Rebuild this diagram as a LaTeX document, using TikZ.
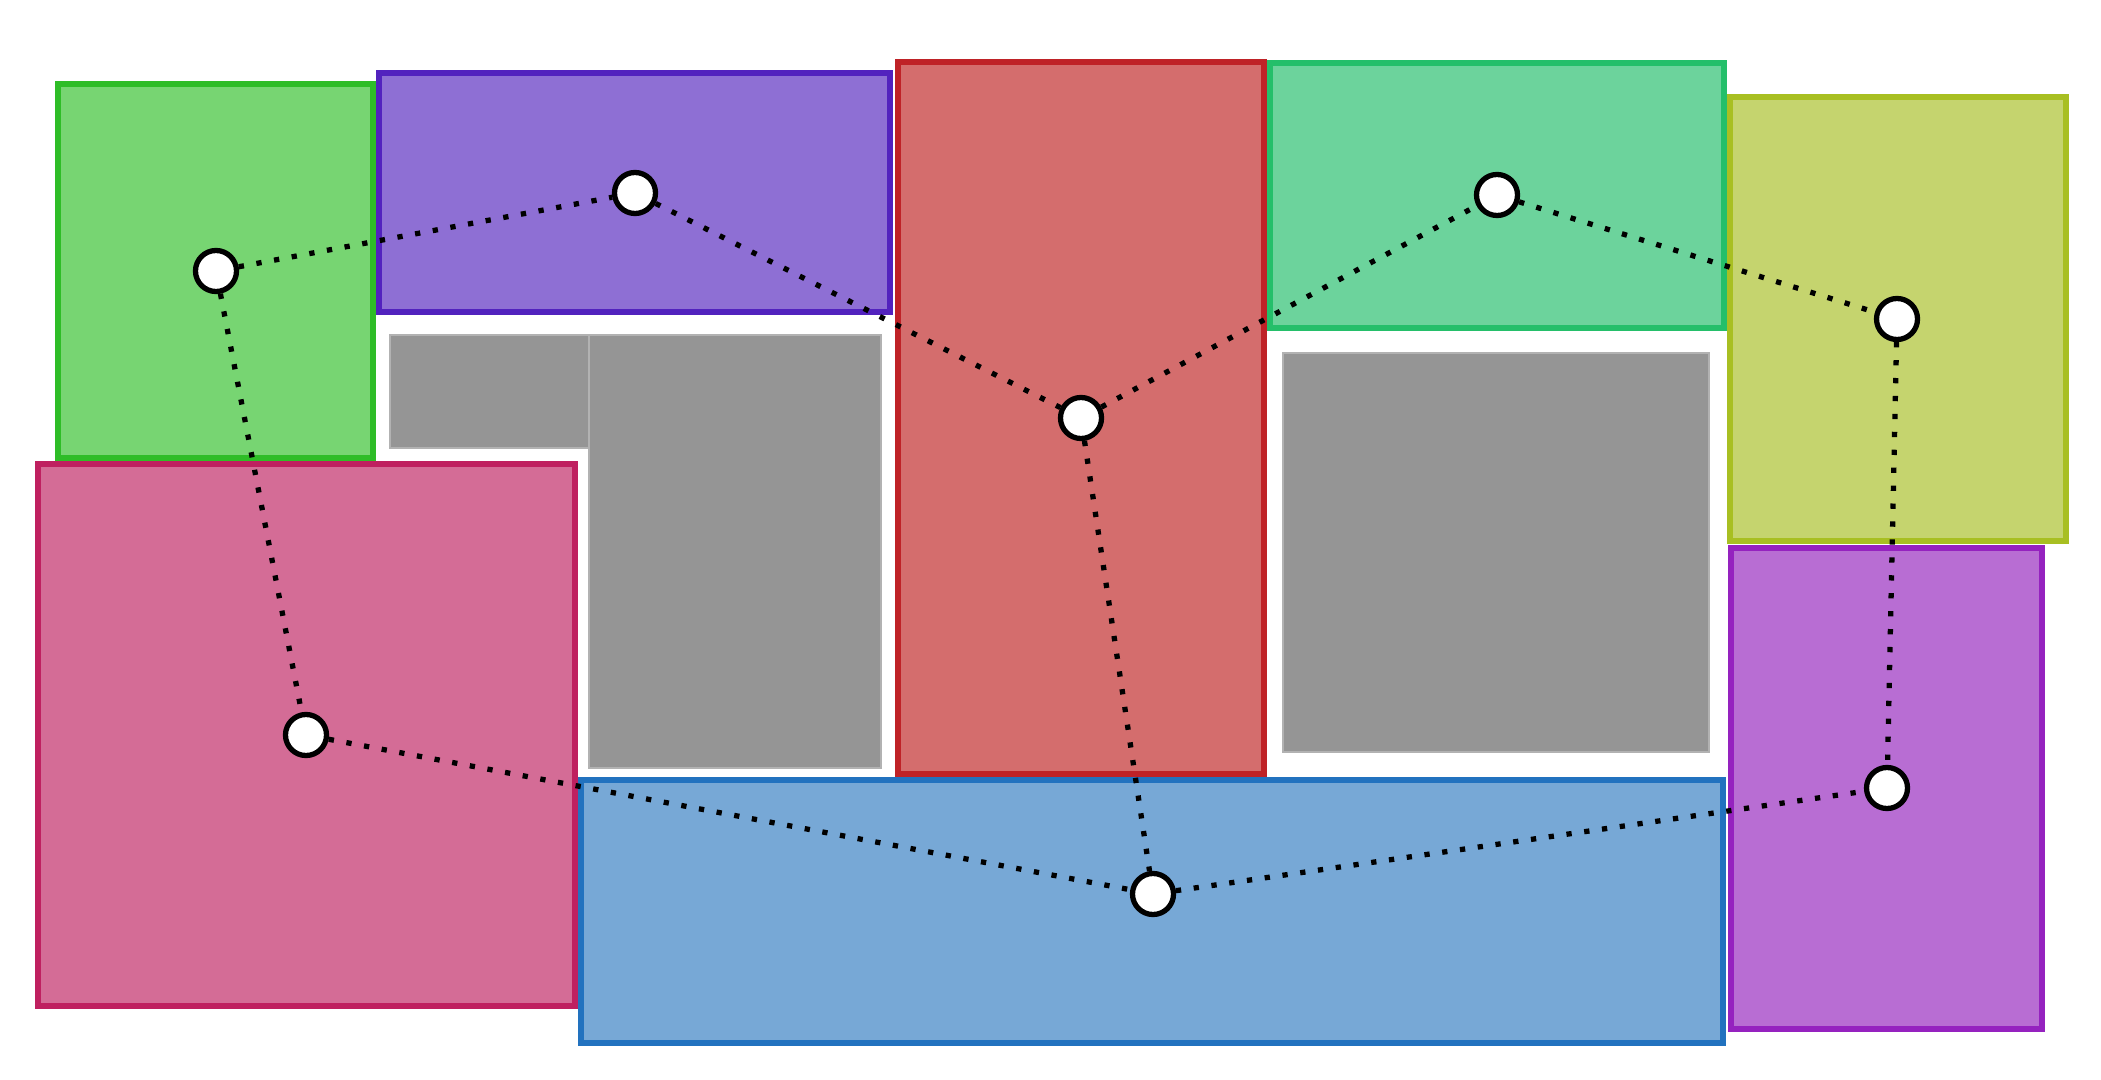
\documentclass[tikz,border=0pt]{standalone}
\usepackage{tikz}

\definecolor{grnfill}{HTML}{77D572}\definecolor{grnline}{HTML}{2EBD27}
\definecolor{purfill}{HTML}{8E6FD4}\definecolor{purline}{HTML}{5222BE}
\definecolor{redfill}{HTML}{D46D6D}\definecolor{redline}{HTML}{BF2227}
\definecolor{tealfill}{HTML}{6CD39C}\definecolor{tealline}{HTML}{24BF6A}
\definecolor{olvfill}{HTML}{C5D46E}\definecolor{olvline}{HTML}{A8BF22}
\definecolor{pnkfill}{HTML}{D46C96}\definecolor{pnkline}{HTML}{BF2060}
\definecolor{blufill}{HTML}{77A8D6}\definecolor{bluline}{HTML}{2272BF}
\definecolor{vltfill}{HTML}{B86DD3}\definecolor{vltline}{HTML}{9522BF}
\definecolor{blockgray}{HTML}{959595}

\tikzset{
  region/.style={line width=1.7pt},
  block/.style={fill=blockgray,draw=gray!60,line width=0.4pt},
  site/.style={circle,draw,fill=white,line width=1.5pt,inner sep=0pt,minimum size=0.41cm},
  link/.style={line width=1.5pt,dash pattern=on 1.5pt off 3.6pt}
}

\begin{document}
\begin{tikzpicture}[x=0.01cm,y=-0.01cm]
      \useasboundingbox (0,0) rectangle (2101,1080);

      \filldraw[region,fill=grnfill,draw=grnline] (58,84) rectangle (373,458);
      \filldraw[region,fill=purfill,draw=purline] (379,73) rectangle (890,312);
      \filldraw[region,fill=redfill,draw=redline] (898,62) rectangle (1264,774);
      \filldraw[region,fill=tealfill,draw=tealline] (1270,63) rectangle (1724,328);
      \filldraw[region,fill=olvfill,draw=olvline] (1730,97) rectangle (2066,541);
      \filldraw[region,fill=pnkfill,draw=pnkline] (38,464) rectangle (575,1006);
      \filldraw[region,fill=blufill,draw=bluline] (581,780) rectangle (1723,1043);
      \filldraw[region,fill=vltfill,draw=vltline] (1731,548) rectangle (2042,1029);

      \filldraw[block] (390,335) rectangle (589,448);
      \filldraw[block] (589,335) rectangle (881,768);
      \filldraw[block] (1283,353) rectangle (1709,752);

      \node[site] (1) at (216,271) {};
      \node[site] (2) at (635,193) {};
      \node[site] (3) at (1081,418) {};
      \node[site] (4) at (1497,195) {};
      \node[site] (5) at (1897,319) {};
      \node[site] (6) at (306,735) {};
      \node[site] (7) at (1153,894) {};
      \node[site] (8) at (1887,788) {};

      \draw[link] (1) -- (2);
      \draw[link] (2) -- (3);
      \draw[link] (3) -- (4);
      \draw[link] (4) -- (5);
      \draw[link] (1) -- (6);
      \draw[link] (6) -- (7);
      \draw[link] (3) -- (7);
      \draw[link] (7) -- (8);
      \draw[link] (5) -- (8);
    \end{tikzpicture}
\end{document}
